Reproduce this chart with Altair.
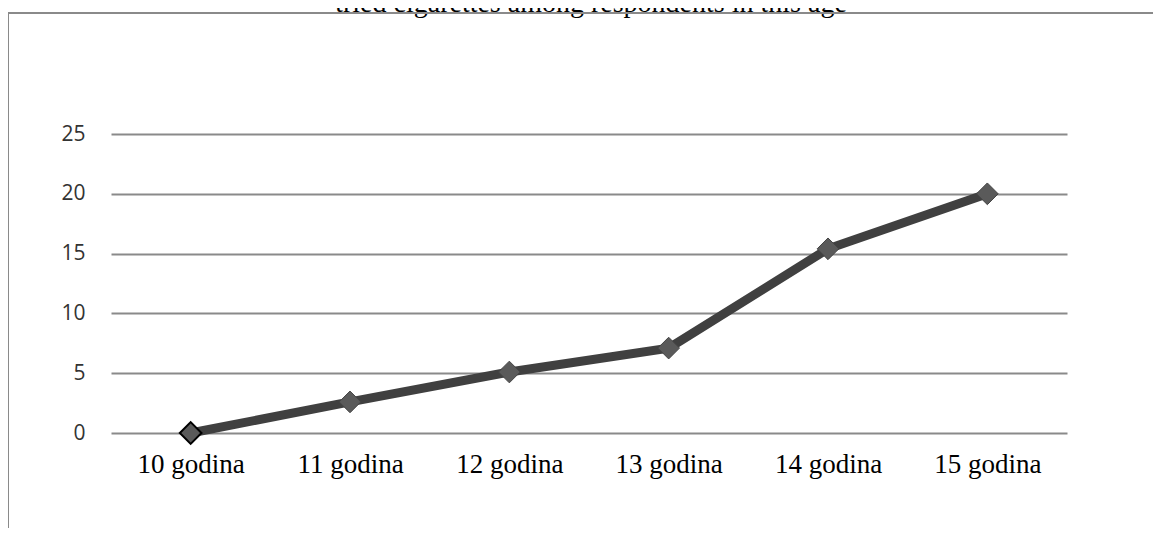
import altair as alt
import pandas as pd

ages = ["10 godina", "11 godina", "12 godina", "13 godina", "14 godina", "15 godina"]
values = [0, 2.6, 5.1, 7.1, 15.4, 20.0]
y_ticks = [0, 5, 10, 15, 20, 25]
title_text = "tried cigarettes among respondents in this age"

df = pd.DataFrame({"age": ages, "value": values})
one = pd.DataFrame({"k": [0]})

W, H = 956, 299
PL, PT = 103, 126
TOTAL_W, TOTAL_H = 1145, 520

x_enc = alt.X("age:N", sort=ages, title=None,
              axis=alt.Axis(labelAngle=0, labelFont="Liberation Serif", labelFontSize=27,
                            labelColor="#000000", labelPadding=18, domain=False, ticks=False,
                            grid=False))
y_enc = alt.Y("value:Q", title=None,
              scale=alt.Scale(domain=[0, 25], nice=False),
              axis=alt.Axis(values=y_ticks, labelFont="Open Sans", labelFontSize=21,
                            labelColor="#333333", labelPadding=26, domain=False, ticks=False,
                            grid=True, gridColor="#8a8a8a", gridWidth=2))

line = alt.Chart(df).mark_line(color="#404040", strokeWidth=9).encode(x=x_enc, y=y_enc)

points = alt.Chart(df).mark_point(shape="diamond", filled=True, size=470, opacity=1).encode(
    x=alt.X("age:N", sort=ages),
    y=alt.Y("value:Q"),
    fill=alt.value("#5a5a5a"),
    stroke=alt.condition(alt.datum.age == ages[0], alt.value("#000000"), alt.value("#444444")),
    strokeWidth=alt.condition(alt.datum.age == ages[0], alt.value(2), alt.value(1)),
)

frame_top = alt.Chart(one).mark_rule(color="#8a8a8a", strokeWidth=2).encode(
    x=alt.value(-PL), x2=alt.value(TOTAL_W - PL), y=alt.value(-121))
frame_left = alt.Chart(one).mark_rule(color="#8a8a8a", strokeWidth=2).encode(
    x=alt.value(-PL), y=alt.value(-121), y2=alt.value(TOTAL_H - PT))

title = alt.Chart(one).mark_text(font="Liberation Serif", fontSize=28, color="#000000",
                                 align="center", baseline="alphabetic").encode(
    x=alt.value(480), y=alt.value(-122), text=alt.value(title_text))

chart = alt.layer(title, frame_top, frame_left, line, points).properties(
    width=W, height=H,
    autosize=alt.AutoSizeParams(type="none"),
    padding={"left": PL, "top": PT, "right": TOTAL_W - PL - W, "bottom": TOTAL_H - PT - H},
    background="white",
).configure_view(stroke=None)

chart.save("out.html", embed_options={"renderer": "svg", "actions": False})
